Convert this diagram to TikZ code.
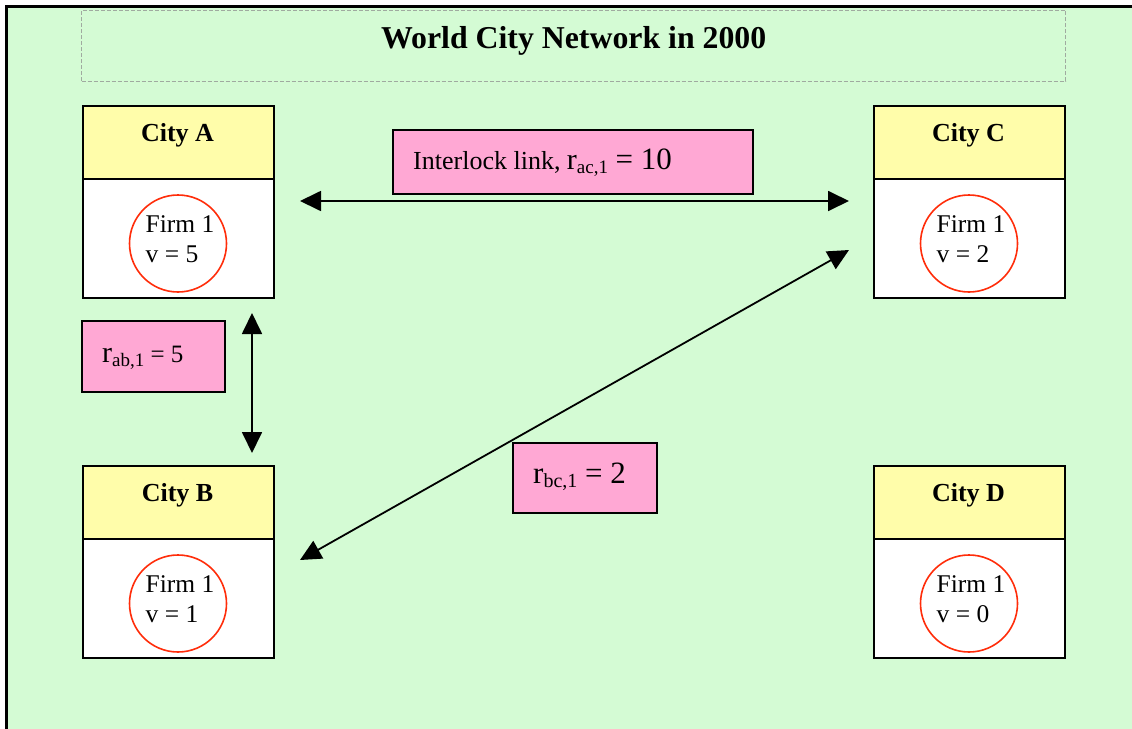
\documentclass[tikz,border=0pt]{standalone}
\usepackage{fontspec}
\setmainfont{Liberation Serif}
\usetikzlibrary{arrows.meta,calc}

\definecolor{bggreen}{RGB}{212,251,212}
\definecolor{hdryellow}{RGB}{255,253,170}
\definecolor{tagpink}{RGB}{255,168,212}
\definecolor{firmred}{RGB}{255,45,10}
\definecolor{dashgray}{RGB}{160,170,160}

% font of a given pixel size
\newcommand\fs[1]{\fontsize{#1}{#1}\selectfont}
% lowered subscript in its own size
\newcommand\lowsub[2]{\raisebox{-4pt}{\fs{#1}#2}}

\begin{document}
\begin{tikzpicture}[x=1pt,y=-1pt,
  cityhead/.style={draw=black,line width=2pt,fill=hdryellow,minimum width=191pt,
    minimum height=73pt,inner sep=0pt,anchor=north west},
  citybody/.style={draw=black,line width=2pt,fill=white,minimum width=191pt,
    minimum height=119pt,inner sep=0pt,anchor=north west},
  cityname/.style={font=\bfseries\fs{26},anchor=base,inner sep=0pt},
  firm/.style={circle,draw=firmred,line width=1.6pt,minimum size=97pt,inner sep=0pt},
  firmtext/.style={font=\fontsize{25.5}{30}\selectfont,align=left,inner sep=0pt},
  tag/.style={draw=black,line width=1.5pt,fill=tagpink,inner sep=0pt},
  tagtext/.style={anchor=base west,inner sep=0pt},
  link/.style={line width=1.8pt,
    {Triangle[length=21pt,width=20pt]}-{Triangle[length=21pt,width=20pt]}},
]
\useasboundingbox (0,0) rectangle (1132,728);

% page and framed green panel
\fill[white] (0,0) rectangle (1132,728);
\fill[bggreen] (6.5,6.5) rectangle (1140,740);
\draw[line width=3pt] (6.5,740) -- (6.5,6.5) -- (1140,6.5);

% title
\node[draw=dashgray,dash pattern=on 4pt off 2pt,line width=1.4pt,
  minimum width=984pt,minimum height=71pt,inner sep=0pt,anchor=north west]
  (titlebox) at (81,9.5) {};
\node[font=\bfseries\fs{31.8},anchor=base,inner sep=0pt] (title)
  at ($(titlebox.north)+(0,38.5)$) {World City Network in 2000};

% cities with their firm
\foreach \n/\x/\y/\v in {A/82/105/5, B/82/465/1, C/873/105/2, D/873/465/0}{
  \node[cityhead] (\n-head) at (\x,\y) {};
  \node[citybody] (\n-body) at (\x,\y+73) {};
  \node[cityname] (\n-name) at ($(\n-head.north)+(-1,36)$) {City \n};
  \node[firm] (\n-firm) at ($(\n-body.center)+(-0.5,5)$) {};
  \node[firmtext] (\n-text) at ($(\n-firm.center)+(2,-4)$) {Firm 1\\v = \v};
}

% link values
\node[tag,minimum width=360pt,minimum height=64pt] (rac) at (573,162) {};
\node[tagtext] (rac-text) at (413,169)
  {\fs{26}Interlock link, \fs{30}r\lowsub{19}{ac,1} \fs{31}= 10};

\node[tag,minimum width=143pt,minimum height=71pt] (rab) at (153.5,356.5) {};
\node[tagtext] (rab-text) at (102,362)
  {\fs{30}r\lowsub{19}{ab,1}\fs{25} = 5};

\node[tag,minimum width=144pt,minimum height=70pt] (rbc) at (585,478) {};
\node[tagtext] (rbc-text) at (533,483)
  {\fs{31}r\lowsub{20}{bc,1} = 2};

% interlock links
\draw[link] ($(A-body.north east)+(25,23)$) -- ($(C-body.north west)+(-24,23)$);
\draw[link] ($(A-body.south east)+(-23,14)$) -- ($(B-head.north east)+(-23,-12)$);
\draw[link] ($(B-body.north east)+(25,22)$) -- ($(C-body.north west)+(-24,72)$);
\end{tikzpicture}
\end{document}
